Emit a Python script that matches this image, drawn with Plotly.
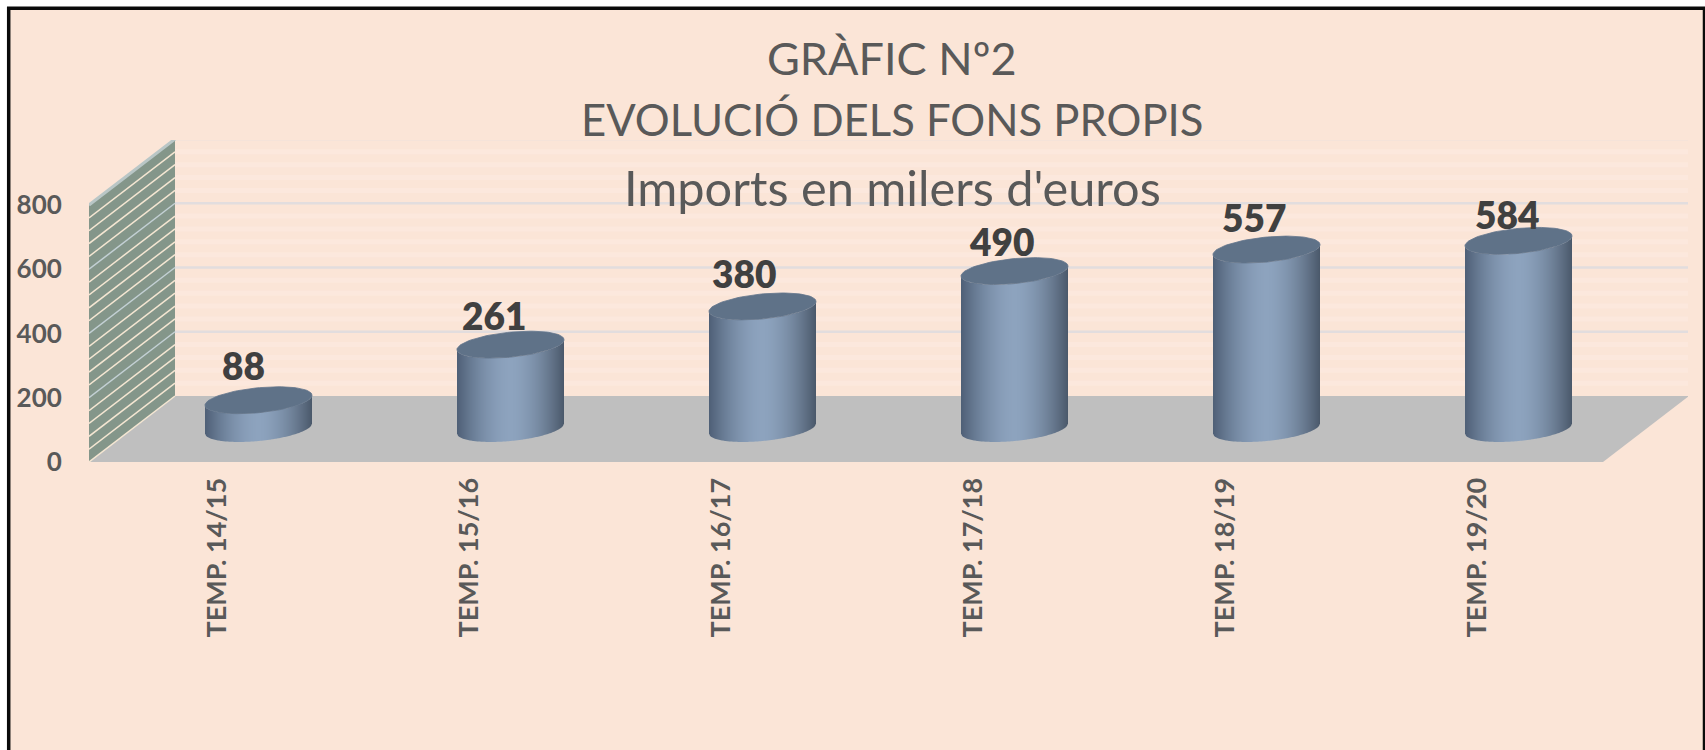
import numpy as np
import plotly.graph_objects as go

# ---- data ----
categories = ["TEMP. 14/15", "TEMP. 15/16", "TEMP. 16/17", "TEMP. 17/18", "TEMP. 18/19", "TEMP. 19/20"]
values = [88, 261, 380, 490, 557, 584]
y_ticks = [0, 200, 400, 600, 800]
minor_step = 40
title_lines = ["GRÀFIC Nº2", "EVOLUCIÓ DELS FONS PROPIS", "Imports en milers d'euros"]

# ---- figure geometry ----
W, H = 1705, 750
PX_L, PX_R, PX_T, PX_B = 89, 1688, 140, 462     # plot box (front-left .. back-right)
PX_CAT = 252.0                                  # pixels per category
PX_UNIT = (462 - 205) / 800                     # pixels per value unit
X0_PX = 217.0                                   # first category on front plane
DX = 86 / PX_CAT                                # oblique depth, x
DY = 66 / PX_UNIT                               # oblique depth, y
MID_X = 41.5 / PX_CAT                           # cylinder axis depth offset, x
MID_Y = 33.5 / PX_UNIT                          # cylinder axis depth offset, y
X_MIN = (PX_L - X0_PX) / PX_CAT
X_MAX = X_MIN + (PX_R - PX_L) / PX_CAT
Y_MAX = (PX_B - PX_T) / PX_UNIT
X_FRONT_R = X_MIN + (1603 - PX_L) / PX_CAT

RAD_X = 53.5 / PX_CAT      # cylinder half width
RAD_Y = 12.5 / PX_UNIT     # ellipse half height
SHEAR = 5.0 / PX_UNIT      # ellipse tilt
N_STRIPS = 107             # one strip per pixel column

# label nudges, in pixels, relative to the top of each cylinder
label_dx = [-15, -17, -19, -13, -13, -12]
label_dy = [35, 29, 33, 30, 32, 26]

INK = "#595959"
LABEL_INK = "#404040"
PEACH = "#FBE5D7"
FONT = "Lato"

traces = []


def poly(xs, ys, fill, line=None, width=0):
    traces.append(go.Scatter(
        x=list(xs), y=list(ys), mode="lines", fill="toself", fillcolor=fill,
        line=dict(color=line or fill, width=width), hoverinfo="skip", showlegend=False))


def seg(xs, ys, color, width, dash="solid"):
    traces.append(go.Scatter(
        x=list(xs), y=list(ys), mode="lines",
        line=dict(color=color, width=width, dash=dash), hoverinfo="skip", showlegend=False))


# back-wall faint bands and grid
for v in np.arange(0, y_ticks[-1] + 1, minor_step):
    if v % 200 != 0 and v > 0:
        seg([X_MIN + DX, X_FRONT_R + DX], [v + DY, v + DY], "#FCE8DD", 5)
for v in y_ticks[1:]:
    seg([X_MIN + DX, X_FRONT_R + DX], [v + DY, v + DY], "#E2DDDE", 2.5)
seg([X_FRONT_R + DX, X_FRONT_R + DX], [DY, y_ticks[-1] + DY], "#E9DDD3", 1, "dot")

# floor
poly([X_MIN, X_MIN + DX, X_FRONT_R + DX, X_FRONT_R, X_MIN],
     [0, DY, DY, 0, 0], "#BFBFBF")

# left side wall with hatch-like gridlines
poly([X_MIN, X_MIN + DX, X_MIN + DX, X_MIN, X_MIN],
     [0, DY, y_ticks[-1] + DY, y_ticks[-1], 0], "#84968A")
for v in np.arange(0, y_ticks[-1] + 1, minor_step):
    major = v % 200 == 0
    seg([X_MIN, X_MIN + DX], [v, v + DY], "#C3D0D4" if major and v > 0 else "#F4E6D2", 1.5)
seg([X_MIN, X_MIN + DX], [y_ticks[-1], y_ticks[-1] + DY], "#B9C6C6", 3)


def shade(u):
    """Horizontal cylinder shading; u runs from -1 to 1."""
    dark_l = np.array([78, 95, 118])
    mid = np.array([141, 163, 190])
    dark_r = np.array([74, 88, 106])
    t = abs(u) ** 1.7
    c = mid + (dark_l - mid) * t if u < 0 else mid + (dark_r - mid) * t
    return "rgb({},{},{})".format(*[int(round(k)) for k in c])


def arc_low(u):
    return SHEAR * u - RAD_Y * np.sqrt(np.clip(1 - u * u, 0, 1))


# cylinders, drawn through the data axes
for i, val in enumerate(values):
    cx = i + MID_X
    base = MID_Y
    top = base + val
    edges = np.linspace(-1, 1, N_STRIPS + 1)
    for k in range(N_STRIPS):
        us = np.linspace(edges[k], edges[k + 1], 3)
        xs = cx + RAD_X * us
        lower = base + arc_low(us)
        upper = top + arc_low(us)
        col = shade((edges[k] + edges[k + 1]) / 2)
        poly(np.r_[xs, xs[::-1], xs[0]], np.r_[lower, upper[::-1], lower[0]], col)
    t = np.linspace(0, 2 * np.pi, 90)
    poly(cx + RAD_X * np.cos(t), top + SHEAR * np.cos(t) + RAD_Y * np.sin(t), "#5F7288", "#62758C", 0.8)

fig = go.Figure(traces)

annotations = []
for i, val in enumerate(values):
    annotations.append(dict(
        x=i + MID_X, y=MID_Y + val, xref="x", yref="y", text=str(val), showarrow=False,
        xshift=label_dx[i], yshift=label_dy[i],
        font=dict(family=FONT, size=37, color=LABEL_INK, weight=800)))
for line, yc, size in zip(title_lines, [58, 119, 187], [45, 43.6, 48.7]):
    annotations.append(dict(
        x=892 / W, y=1 - yc / H, xref="paper", yref="paper", text=line, showarrow=False,
        xanchor="center", yanchor="middle",
        font=dict(family=FONT, size=size, color=INK, weight=400)))

fig.update_layout(
    width=W, height=H, autosize=False,
    margin=dict(l=0, r=0, t=0, b=0, pad=0),
    paper_bgcolor="white", plot_bgcolor="rgba(0,0,0,0)",
    showlegend=False,
    xaxis=dict(
        domain=[PX_L / W, PX_R / W], range=[X_MIN, X_MAX], tickmode="array",
        tickvals=list(range(len(categories))), ticktext=categories, tickangle=-90,
        showgrid=False, zeroline=False, showline=False, ticks="outside", ticklen=4,
        automargin=False,
        tickcolor="rgba(0,0,0,0)", tickfont=dict(family=FONT, size=27, color=INK, weight=700),
        fixedrange=True),
    yaxis=dict(
        domain=[1 - PX_B / H, 1 - PX_T / H], range=[0, Y_MAX], tickmode="array",
        tickvals=y_ticks, showgrid=False, zeroline=False, showline=False,
        automargin=False,
        ticks="outside", ticklen=21, tickcolor="rgba(0,0,0,0)",
        tickfont=dict(family=FONT, size=26, color=INK, weight=700), fixedrange=True),
    annotations=annotations,
    shapes=[dict(type="rect", xref="paper", yref="paper", layer="below",
                 x0=8.7 / W, x1=1704.5 / W, y0=-0.02, y1=1 - 8.3 / H,
                 fillcolor=PEACH, line=dict(color="#0A0A0A", width=3.5))],
)

fig.write_html(
    "out.html", config=dict(displayModeBar=False, responsive=False),
    post_script="document.body.style.margin='0';document.documentElement.style.overflow='hidden';")
